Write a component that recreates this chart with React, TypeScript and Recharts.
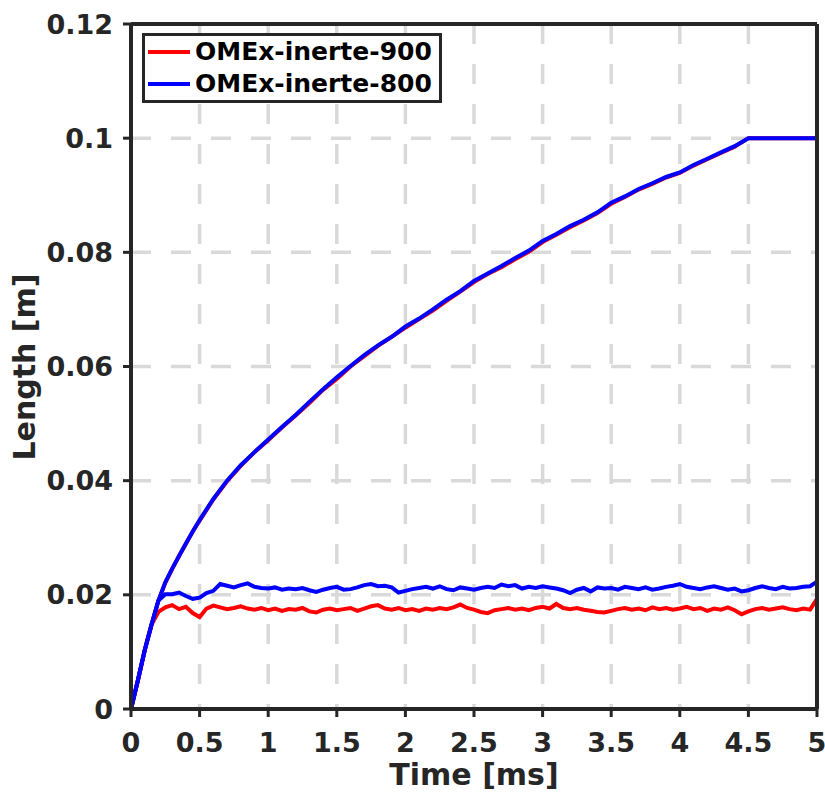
import React from "react";
import {
  LineChart,
  Line,
  XAxis,
  YAxis,
  CartesianGrid,
  Legend,
} from "recharts";

// time [ms] for the rising (vapour) curves
const riseTimes = [
  0, 0.05, 0.1, 0.15, 0.2, 0.25, 0.3, 0.35, 0.4, 0.45, 0.5, 0.6, 0.7, 0.8, 0.9,
  1.0, 1.1, 1.2, 1.3, 1.4, 1.5, 1.6, 1.7, 1.8, 1.9, 2.0, 2.1, 2.2, 2.3, 2.4,
  2.5, 2.6, 2.7, 2.8, 2.9, 3.0, 3.1, 3.2, 3.3, 3.4, 3.5, 3.6, 3.7, 3.8, 3.9,
  4.0, 4.1, 4.2, 4.3, 4.4, 4.5, 4.75, 5.0,
];

const riseRed900 = [
  0, 0.005, 0.0103, 0.0148, 0.019, 0.0221, 0.0245, 0.0268, 0.0289, 0.0311,
  0.0330, 0.0367, 0.0399, 0.0426, 0.0450, 0.0471, 0.0493, 0.0514, 0.0536,
  0.0559, 0.0578, 0.0600, 0.0618, 0.0636, 0.0652, 0.0668, 0.0683, 0.0698,
  0.0715, 0.0731, 0.0748, 0.0762, 0.0774, 0.0788, 0.0801, 0.0818, 0.0831,
  0.0844, 0.0856, 0.0869, 0.0885, 0.0897, 0.0910, 0.0920, 0.0931, 0.0939,
  0.0952, 0.0963, 0.0974, 0.0985, 0.1, 0.1, 0.1,
];

const riseBlue800 = [
  0, 0.005, 0.0103, 0.0148, 0.019, 0.0222, 0.0246, 0.0268, 0.029, 0.0311,
  0.0331, 0.0368, 0.0400, 0.0427, 0.0450, 0.0472, 0.0494, 0.0515, 0.0538,
  0.0560, 0.0581, 0.0601, 0.0620, 0.0637, 0.0652, 0.0670, 0.0684, 0.0700,
  0.0717, 0.0732, 0.0750, 0.0763, 0.0776, 0.0790, 0.0803, 0.0820, 0.0832,
  0.0846, 0.0857, 0.0870, 0.0887, 0.0898, 0.0911, 0.0921, 0.0932, 0.0940,
  0.0953, 0.0964, 0.0975, 0.0986, 0.1, 0.1, 0.1,
];

// time [ms] for the flat (liquid) curves
const flatTimes = [
  0, 0.05, 0.1, 0.15, 0.2, 0.25, 0.3, 0.35, 0.4, 0.45, 0.5, 0.55, 0.6, 0.65,
  0.7, 0.75, 0.8, 0.85, 0.9, 0.95, 1.0, 1.05, 1.1, 1.15, 1.2, 1.25, 1.3, 1.35,
  1.4, 1.45, 1.5, 1.55, 1.6, 1.65, 1.7, 1.75, 1.8, 1.85, 1.9, 1.95, 2.0, 2.05,
  2.1, 2.15, 2.2, 2.25, 2.3, 2.35, 2.4, 2.45, 2.5, 2.55, 2.6, 2.65, 2.7, 2.75,
  2.8, 2.85, 2.9, 2.95, 3.0, 3.05, 3.1, 3.15, 3.2, 3.25, 3.3, 3.35, 3.4, 3.45,
  3.5, 3.55, 3.6, 3.65, 3.7, 3.75, 3.8, 3.85, 3.9, 3.95, 4.0, 4.05, 4.1, 4.15,
  4.2, 4.25, 4.3, 4.35, 4.4, 4.45, 4.5, 4.55, 4.6, 4.65, 4.7, 4.75, 4.8, 4.85,
  4.9, 4.95, 5.0,
];

const flatRed900 = [
  0, 0.005, 0.0103, 0.0148, 0.0170, 0.0178, 0.0182, 0.0175, 0.0179, 0.0168,
  0.0161, 0.0176, 0.0181, 0.0178, 0.0175, 0.0177, 0.0180, 0.0176, 0.0174,
  0.0177, 0.0173, 0.0176, 0.0172, 0.0175, 0.0174, 0.0177, 0.0171, 0.0169,
  0.0174, 0.0176, 0.0173, 0.0175, 0.0177, 0.0172, 0.0176, 0.0180, 0.0182,
  0.0176, 0.0174, 0.0177, 0.0173, 0.0175, 0.0172, 0.0176, 0.0174, 0.0177,
  0.0175, 0.0178, 0.0183, 0.0177, 0.0174, 0.0170, 0.0168, 0.0173, 0.0175,
  0.0177, 0.0174, 0.0176, 0.0173, 0.0177, 0.0179, 0.0176, 0.0184, 0.0177,
  0.0175, 0.0177, 0.0174, 0.0172, 0.0170, 0.0169, 0.0172, 0.0175, 0.0177,
  0.0174, 0.0176, 0.0173, 0.0178, 0.0175, 0.0177, 0.0174, 0.0176, 0.0179,
  0.0175, 0.0177, 0.0172, 0.0176, 0.0174, 0.0178, 0.0173, 0.0166, 0.0171,
  0.0175, 0.0177, 0.0174, 0.0176, 0.0178, 0.0175, 0.0173, 0.0176, 0.0174,
  0.0193,
];

const flatBlue800 = [
  0, 0.005, 0.0103, 0.0148, 0.0190, 0.0201, 0.0201, 0.0204, 0.0198, 0.0193,
  0.0195, 0.0203, 0.0207, 0.0219, 0.0216, 0.0213, 0.0217, 0.0220, 0.0214,
  0.0212, 0.0211, 0.0213, 0.0209, 0.0211, 0.0210, 0.0212, 0.0208, 0.0205,
  0.0209, 0.0212, 0.0214, 0.0209, 0.0210, 0.0213, 0.0217, 0.0219, 0.0215,
  0.0216, 0.0213, 0.0204, 0.0207, 0.0210, 0.0212, 0.0214, 0.0211, 0.0215,
  0.0210, 0.0208, 0.0213, 0.0211, 0.0209, 0.0212, 0.0214, 0.0212, 0.0218,
  0.0215, 0.0217, 0.0211, 0.0214, 0.0212, 0.0215, 0.0213, 0.0211, 0.0208,
  0.0203, 0.0209, 0.0212, 0.0206, 0.0213, 0.0211, 0.0212, 0.0209, 0.0214,
  0.0212, 0.0210, 0.0213, 0.0209, 0.0211, 0.0214, 0.0216, 0.0219, 0.0214,
  0.0212, 0.0210, 0.0213, 0.0215, 0.0212, 0.0209, 0.0211, 0.0206, 0.0208,
  0.0212, 0.0215, 0.0212, 0.0210, 0.0214, 0.0211, 0.0212, 0.0214, 0.0215,
  0.0223,
];

const xTicks = [0, 0.5, 1, 1.5, 2, 2.5, 3, 3.5, 4, 4.5, 5];
const yTicks = [0, 0.02, 0.04, 0.06, 0.08, 0.1, 0.12];

const legendNames = ["OMEx-inerte-900", "OMEx-inerte-800"];
const legendColors = ["#ff0000", "#0000ff"];

const toPoints = (times: number[], values: number[]) =>
  times.map((t, i) => ({ t, v: values[i] }));

const INK = "#262626";
const FONT = "'DejaVu Sans', sans-serif";
const tickStyle = { fill: INK, fontSize: 27, fontWeight: "bold", fontFamily: FONT };
const axisLine = { stroke: INK, strokeWidth: 4 };
const tickLine = { stroke: INK, strokeWidth: 3 };

function LegendBox() {
  return (
    <div
      style={{
        width: 300,
        height: 70,
        boxSizing: "border-box",
        border: `3px solid ${INK}`,
        background: "#fff",
        padding: "0 0 0 3px",
        fontFamily: FONT,
        fontWeight: "bold",
        fontSize: 25,
        color: "#000",
        whiteSpace: "nowrap",
        overflow: "hidden",
        textAlign: "left",
      }}
    >
      {legendNames.map((name, i) => (
        <div
          key={name}
          style={{ display: "flex", alignItems: "center", height: 32, lineHeight: "32px" }}
        >
          <span
            style={{
              display: "inline-block",
              flex: "0 0 42px",
              height: 4,
              background: legendColors[i],
              marginRight: 5,
            }}
          />
          <span>{name}</span>
        </div>
      ))}
    </div>
  );
}

export default function App() {
  return (
    <div style={{ position: "absolute", left: 0, top: 0, width: 825, height: 794, background: "#fff" }}>
      <LineChart
        width={825}
        height={794}
        margin={{ top: 8, right: 0, bottom: 0, left: 8 }}
      >
        <CartesianGrid
          stroke="#d9d9d9"
          strokeWidth={3.5}
          strokeDasharray="20 20"
        />
        <XAxis
          type="number"
          dataKey="t"
          domain={[0, 5]}
          ticks={xTicks}
          height={85}
          axisLine={axisLine}
          tickLine={tickLine}
          tickSize={8}
          tickMargin={16}
          tick={tickStyle}
          label={{
            content: () => (
              <text
                x={474}
                y={785}
                textAnchor="middle"
                fill={INK}
                fontSize={30}
                fontWeight="bold"
                fontFamily={FONT}
              >
                Time [ms]
              </text>
            ),
          }}
        />
        <XAxis
          xAxisId="top"
          orientation="top"
          type="number"
          dataKey="t"
          domain={[0, 5]}
          ticks={xTicks}
          height={16}
          axisLine={axisLine}
          tickLine={tickLine}
          tickSize={8}
          tick={false}
        />
        <YAxis
          type="number"
          domain={[0, 0.12]}
          ticks={yTicks}
          width={123}
          axisLine={axisLine}
          tickLine={tickLine}
          tickSize={8}
          tickMargin={10}
          tick={tickStyle}
          label={{
            content: () => (
              <text
                x={35}
                y={367}
                transform="rotate(-90, 35, 367)"
                textAnchor="middle"
                fill={INK}
                fontSize={30}
                fontWeight="bold"
                fontFamily={FONT}
              >
                Length [m]
              </text>
            ),
          }}
        />
        <YAxis
          yAxisId="right"
          orientation="right"
          type="number"
          domain={[0, 0.12]}
          ticks={yTicks}
          width={8}
          axisLine={axisLine}
          tickLine={tickLine}
          tickSize={8}
          tick={false}
        />
        <Legend
          layout="horizontal"
          verticalAlign="middle"
          align="center"
          wrapperStyle={{ left: 142, top: 33, width: 300, height: 70 }}
          content={() => <LegendBox />}
        />
        <Line
          data={toPoints(riseTimes, riseRed900)}
          dataKey="v"
          stroke="#ff0000"
          strokeWidth={4}
          dot={false}
          isAnimationActive={false}
          legendType="none"
        />
        <Line
          data={toPoints(flatTimes, flatRed900)}
          dataKey="v"
          stroke="#ff0000"
          strokeWidth={4}
          dot={false}
          isAnimationActive={false}
          legendType="none"
        />
        <Line
          data={toPoints(riseTimes, riseBlue800)}
          dataKey="v"
          stroke="#0000ff"
          strokeWidth={4}
          dot={false}
          isAnimationActive={false}
          legendType="none"
        />
        <Line
          data={toPoints(flatTimes, flatBlue800)}
          dataKey="v"
          stroke="#0000ff"
          strokeWidth={4}
          dot={false}
          isAnimationActive={false}
          legendType="none"
        />
      </LineChart>
    </div>
  );
}
